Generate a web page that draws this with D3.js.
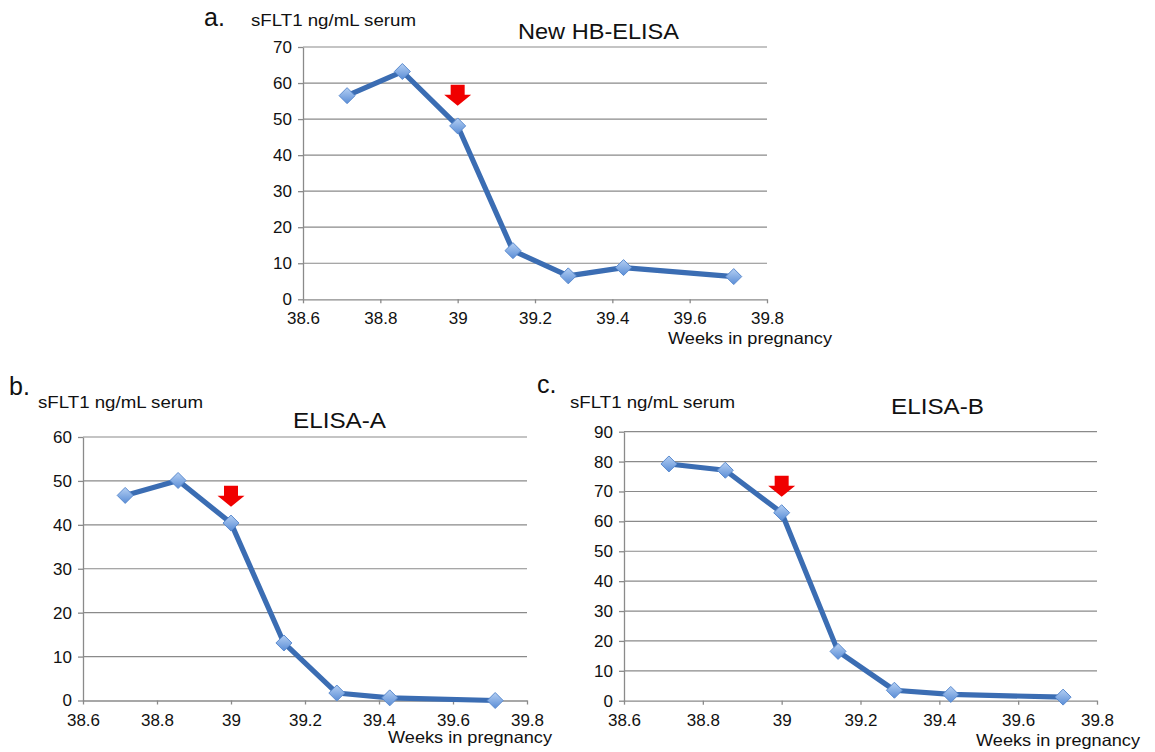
<!DOCTYPE html>
<html>
<head>
<meta charset="utf-8">
<script src="https://cdn.jsdelivr.net/npm/d3@7"></script>
<style>
  body { margin: 0; background: #fff; }
  svg text { font-family: "Liberation Sans", Arial, sans-serif; fill: #111; }
  .axis path, .axis line { stroke: #8a8a8a; stroke-width: 1.3; }
  .grid line { stroke: #8a8a8a; stroke-width: 1.2; }
</style>
</head>
<body>
<svg id="chart" width="1155" height="752"></svg>
<script>
// weeks in pregnancy (38 + 5/7 ... 39 + 5/7)
const weeks = [38.714, 38.857, 39.0, 39.143, 39.286, 39.429, 39.714];
const hbElisa = [56.5, 63.2, 48.1, 13.5, 6.5, 8.8, 6.3];
const elisaA = [46.7, 50.1, 40.4, 13.1, 1.7, 0.6, 0.0];
const elisaB = [79.2, 77.1, 62.9, 16.5, 3.5, 2.1, 1.2];
const xTicks = [38.6, 38.8, 39, 39.2, 39.4, 39.6, 39.8];
const yMaxes = [70, 60, 90];
const titles = ["New HB-ELISA", "ELISA-A", "ELISA-B"];
const letters = ["a.", "b.", "c."];
const arrowWeek = [39.0, 39.0, 39.0];
const arrowTip = [53.7, 44.1, 68.2];
const yLabel = "sFLT1 ng/mL serum";
const xLabel = "Weeks in pregnancy";

// layout of each panel (pixels)
const panels = [
  {left: 303, right: 767, top: 47, bottom: 299.3, lx: 204, ly: 26, ylx: 251, yly: 26,
   tx: 598.5, ty: 38.5, tw: 161, wr: 832, wy: 343.5},
  {left: 83, right: 527, top: 437, bottom: 700.5, lx: 9, ly: 395, ylx: 38, yly: 408,
   tx: 339.5, ty: 428, tw: 93, wr: 552, wy: 743},
  {left: 624, right: 1097, top: 431.7, bottom: 700.7, lx: 537, ly: 393, ylx: 570, yly: 408,
   tx: 937.5, ty: 414, tw: 93, wr: 1140, wy: 746}
];
const series = [hbElisa, elisaA, elisaB];

const svg = d3.select("#chart");

const defs = svg.append("defs");
const grad = defs.append("linearGradient").attr("id", "mk")
  .attr("x1", 0).attr("y1", 0).attr("x2", 0).attr("y2", 1);
grad.append("stop").attr("offset", "0%").attr("stop-color", "#b4cff3");
grad.append("stop").attr("offset", "100%").attr("stop-color", "#5a8dd6");

panels.forEach(function (p, i) {
  const g = svg.append("g");
  const x = d3.scaleLinear().domain([38.6, 39.8]).range([p.left, p.right]);
  const y = d3.scaleLinear().domain([0, yMaxes[i]]).range([p.bottom, p.top]);
  const yTicks = d3.range(0, yMaxes[i] + 1, 10);

  // gridlines
  g.append("g").attr("class", "grid")
    .selectAll("line")
    .data(yTicks.filter(d => d > 0))
    .enter().append("line")
    .attr("x1", p.left).attr("x2", p.right)
    .attr("y1", d => y(d)).attr("y2", d => y(d));

  const yAx = g.append("g").attr("class", "axis")
    .attr("transform", "translate(" + p.left + ",0)")
    .call(d3.axisLeft(y).tickValues(yTicks).tickSize(5).tickSizeOuter(0).tickPadding(6));

  const xAx = g.append("g").attr("class", "axis")
    .attr("transform", "translate(0," + p.bottom + ")")
    .call(d3.axisBottom(x).tickValues(xTicks).tickSize(4).tickSizeOuter(0).tickPadding(9)
      .tickFormat(d => String(+d.toFixed(1))));

  yAx.selectAll("text").attr("font-size", 17).attr("fill", "#111");
  xAx.selectAll("text").attr("font-size", 17).attr("fill", "#111");

  // series line
  const pts = weeks.map((w, k) => [w, series[i][k]]);
  g.append("path")
    .datum(pts)
    .attr("fill", "none")
    .attr("stroke", "#3b6db3")
    .attr("stroke-width", 5.2)
    .attr("stroke-linejoin", "round")
    .attr("d", d3.line().x(d => x(d[0])).y(d => y(d[1])));

  g.selectAll(".pt")
    .data(pts)
    .enter().append("path")
    .attr("class", "pt")
    .attr("transform", d => "translate(" + x(d[0]) + "," + y(d[1]) + ")")
    .attr("d", "M0,-8L8,0L0,8L-8,0Z")
    .attr("fill", "url(#mk)")
    .attr("stroke", "#5b8bcf")
    .attr("stroke-width", 1);

  // red arrow, tip at the marked value
  const ax = x(arrowWeek[i]), ay = y(arrowTip[i]);
  g.append("path")
    .attr("d", "M" + (ax - 7) + "," + (ay - 21) + "h14v10h6.5L" + ax + "," + ay +
      "L" + (ax - 13.5) + "," + (ay - 11) + "h6.5Z")
    .attr("fill", "#f00000");

  // texts
  g.append("text").attr("x", p.lx).attr("y", p.ly)
    .attr("font-size", 25).text(letters[i]);
  g.append("text").attr("x", p.ylx).attr("y", p.yly)
    .attr("font-size", 16.5).attr("textLength", 165).attr("lengthAdjust", "spacingAndGlyphs")
    .text(yLabel);
  g.append("text").attr("x", p.tx).attr("y", p.ty).attr("text-anchor", "middle")
    .attr("font-size", 21.5).attr("textLength", p.tw).attr("lengthAdjust", "spacingAndGlyphs")
    .text(titles[i]);
  g.append("text").attr("x", p.wr - 164).attr("y", p.wy)
    .attr("font-size", 16.5).attr("textLength", 164).attr("lengthAdjust", "spacingAndGlyphs")
    .text(xLabel);
});
</script>
</body>
</html>
